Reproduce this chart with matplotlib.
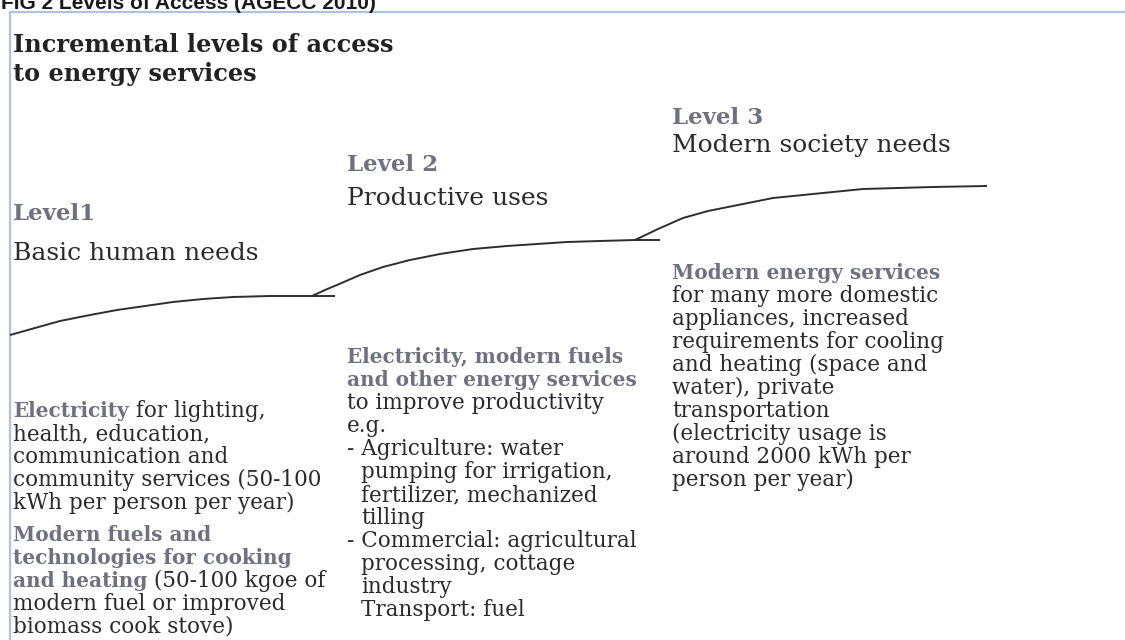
import matplotlib
matplotlib.use('Agg')
import matplotlib.pyplot as plt

# --- data: the three rising steps (pixel coords) ---
step1_x = [10, 35, 60, 90, 117, 145, 173, 203, 233, 270, 312, 335]
step1_y = [335, 328, 321, 315, 310, 306, 302, 299, 297, 296, 296, 296]
step2_x = [312, 325, 337, 360, 383, 410, 440, 473, 507, 537, 567, 600, 635, 660]
step2_y = [296, 290, 285, 275, 267, 260, 254, 249, 246, 244, 242, 241, 240, 240]
step3_x = [635, 658, 683, 708, 733, 753, 773, 803, 833, 863, 898, 933, 987]
step3_y = [240, 229, 218, 211, 206, 202, 198, 195, 192, 189, 188, 187, 186]

fig_title = "FIG 2 Levels of Access (AGECC 2010)"
heading = ["Incremental levels of access", "to energy services"]
level_names = ["Level1", "Level 2", "Level 3"]
level_subs = ["Basic human needs", "Productive uses", "Modern society needs"]

# each line is a list of (text, highlighted) runs; None = paragraph gap
level1_body = [
    [("Electricity", True), (" for lighting,", False)],
    [("health, education,", False)],
    [("communication and", False)],
    [("community services (50-100", False)],
    [("kWh per person per year)", False)],
    None,
    [("Modern fuels and", True)],
    [("technologies for cooking", True)],
    [("and heating", True), (" (50-100 kgoe of", False)],
    [("modern fuel or improved", False)],
    [("biomass cook stove)", False)],
]
level2_body = [
    [("Electricity, modern fuels", True)],
    [("and other energy services", True)],
    [("to improve productivity", False)],
    [("e.g.", False)],
    [("- Agriculture: water", False)],
    [("pumping for irrigation,", False, "indent")],
    [("fertilizer, mechanized", False, "indent")],
    [("tilling", False, "indent")],
    [("- Commercial: agricultural", False)],
    [("processing, cottage", False, "indent")],
    [("industry", False, "indent")],
    [("Transport: fuel", False, "indent")],
]
level3_body = [
    [("Modern energy services", True)],
    [("for many more domestic", False)],
    [("appliances, increased", False)],
    [("requirements for cooling", False)],
    [("and heating (space and", False)],
    [("water), private", False)],
    [("transportation", False)],
    [("(electricity usage is", False)],
    [("around 2000 kWh per", False)],
    [("person per year)", False)],
]

SERIF = 'DejaVu Serif'
DARK = '#2a2a2a'
ACCENT = '#6d7180'
BODY_SIZE = 15.5
BOLD_SIZE = 14.4
LINE_STEP = 23

fig = plt.figure(figsize=(11.25, 6.4), dpi=100)
ax = fig.add_axes([0, 0, 1, 1])
ax.set_xlim(0, 1125)
ax.set_ylim(640, 0)
ax.axis('off')

# figure caption (cut by the top edge, as in the source) and the light blue frame
ax.text(1, 9, fig_title, family='Liberation Sans', weight='bold', fontsize=15,
        color='#1a1a1a', va='baseline')
ax.plot([9.5, 9.5, 1125], [640, 12, 12], color='#aec3e3', lw=1.6,
        solid_joinstyle='miter')

# heading
for i, line in enumerate(heading):
    ax.text(13, 52 + i * 29, line, family=SERIF, weight='bold', fontsize=17.3,
            color='#222222', va='baseline')

# the curve
for xs, ys in [(step1_x, step1_y), (step2_x, step2_y), (step3_x, step3_y)]:
    ax.plot(xs, ys, color='#2e2e2e', lw=1.4, solid_capstyle='butt',
            solid_joinstyle='round')

# level titles
level_pos = [(13, 220, 260), (347, 171, 205), (672, 124, 152)]
for (x, yh, ys), name, sub in zip(level_pos, level_names, level_subs):
    ax.text(x, yh, name, family=SERIF, weight='bold', fontsize=16.5,
            color=ACCENT, va='baseline')
    ax.text(x, ys, sub, family=SERIF, fontsize=18, color=DARK,
            va='baseline')


def draw_block(x, y, lines, indent=14):
    for line in lines:
        if line is None:
            y += 9
            continue
        prev = None
        for run in line:
            s, hi = run[0], run[1]
            kw = dict(family=SERIF, va='baseline',
                      fontsize=BOLD_SIZE if hi else BODY_SIZE,
                      weight='bold' if hi else 'normal',
                      color=ACCENT if hi else DARK)
            if prev is None:
                x0 = x + (indent if len(run) > 2 else 0)
                prev = ax.text(x0, y, s, **kw)
            else:
                prev = ax.annotate(s, xy=(1, y), xycoords=(prev, ax.transData),
                                   ha='left', **kw)
        y += LINE_STEP


draw_block(13, 417, level1_body)
draw_block(347, 363, level2_body)
draw_block(672, 279, level3_body)

plt.savefig('out.png', dpi=100)
